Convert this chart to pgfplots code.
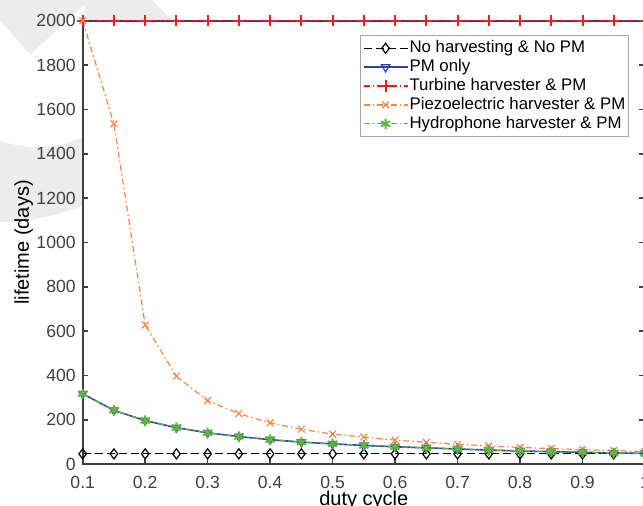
\documentclass[border=0pt]{standalone}
\usepackage{fontspec}
\setmainfont{Liberation Sans}
\usepackage{pgfplots}
\pgfplotsset{compat=1.18}
\definecolor{axgray}{RGB}{64,64,64}
\definecolor{wmgray}{RGB}{236,236,236}
\definecolor{pmblue}{RGB}{40,70,165}
\definecolor{turbred}{RGB}{235,30,40}
\definecolor{piezo}{RGB}{245,135,75}
\definecolor{hydro}{RGB}{95,180,65}

\begin{document}
\begin{tikzpicture}
% light watermark behind the axes (pixel units of the reference)
\begin{scope}[x=0.5pt,y=-0.5pt,xshift=-41.35pt,yshift=232.15pt]
  \fill[wmgray] (0,0) -- (152,0) -- (178,26) -- (85,26) -- (85,4) -- (30,55) -- (0,20) -- cycle;
  \fill[wmgray] (0,141) .. controls (30,150) and (60,150) .. (85,135) -- (85,205)
     .. controls (60,215) and (30,222) .. (0,222) -- cycle;
\end{scope}
\begin{axis}[
  scale only axis,
  width=281.15pt, height=221.8pt,
  xmin=0.1, xmax=1, ymin=0, ymax=2000,
  xtick={0.1,0.2,...,1.0},
  xticklabels={0.1,0.2,0.3,0.4,0.5,0.6,0.7,0.8,0.9,1},
  ytick={0,200,...,2000},
  axis background/.style={fill=white},
  axis line style={axgray, line width=1pt},
  tick style={axgray, line width=0.8pt},
  tick align=inside,
  major tick length=2.8pt,
  clip=false,
  /pgf/number format/assume math mode=true,
  ticklabel style={font=\fontsize{8.8}{10}\selectfont, text=axgray},
  xticklabel style={anchor=base, yshift=-12pt},
  scaled y ticks=false,
  yticklabel style={/pgf/number format/.cd, fixed, 1000 sep={}},
  xlabel={duty cycle},
  ylabel={lifetime (days)},
  label style={font=\fontsize{9.6}{11}\selectfont, text=axgray},
  every axis x label/.style={at={(rel axis cs:0.5,0)}, anchor=base, yshift=-20.6pt},
  every axis y label/.style={at={(rel axis cs:0,0.5)}, xshift=-29.5pt, rotate=90, anchor=center},
  legend style={at={(1,1)}, anchor=north east, xshift=-8pt, yshift=-7.3pt,
    draw=gray!70, line width=0.5pt, fill=white,
    font=\fontsize{8.4}{9}\selectfont, inner xsep=1pt, inner ysep=1.5pt,
    nodes={inner sep=0.6pt, text height=6.3pt, text depth=1.95pt}},
  legend cell align=left,
  legend image code/.code={\draw[mark repeat=2,mark phase=2] plot coordinates {(0pt,0pt) (11pt,0pt) (22pt,0pt)};},
  every axis plot/.append style={line width=0.6pt},
]
\addplot[black, dash pattern=on 4pt off 2pt, mark=diamond, mark size=2.5pt,
  mark options={solid, fill=white}] coordinates {
(0.10,47) (0.15,47) (0.20,47) (0.25,47) (0.30,47) (0.35,47) (0.40,47) (0.45,47) (0.50,47) (0.55,47)
(0.60,47) (0.65,47) (0.70,47) (0.75,47) (0.80,47) (0.85,47) (0.90,47) (0.95,47) (1.00,47)};
\addlegendentry{No harvesting \& No PM}
\addplot[pmblue, solid, line width=0.8pt, mark=triangle, mark size=2.4pt, mark options={rotate=180, fill=white, line width=0.6pt}] coordinates {
(0.10,318) (0.15,243) (0.20,197) (0.25,165) (0.30,142) (0.35,125) (0.40,111) (0.45,100) (0.50,92) (0.55,85)
(0.60,79) (0.65,74) (0.70,69) (0.75,64) (0.80,60) (0.85,57) (0.90,54) (0.95,51) (1.00,49)};
\addlegendentry{PM only}
\addplot[turbred, dash pattern=on 3pt off 1.5pt on 0.8pt off 1.5pt, mark=+, mark size=2.8pt,
  mark options={solid, line width=1pt}] coordinates {
(0.10,2000) (0.15,2000) (0.20,2000) (0.25,2000) (0.30,2000) (0.35,2000) (0.40,2000) (0.45,2000) (0.50,2000) (0.55,2000)
(0.60,2000) (0.65,2000) (0.70,2000) (0.75,2000) (0.80,2000) (0.85,2000) (0.90,2000) (0.95,2000) (1.00,2000)};
\addlegendentry{Turbine harvester \& PM}
\addplot[piezo, dash pattern=on 3pt off 1.5pt on 0.8pt off 1.5pt, mark=x, mark size=2.4pt,
  mark options={solid}] coordinates {
(0.10,2000) (0.15,1535) (0.20,628) (0.25,397) (0.30,287) (0.35,228) (0.40,187) (0.45,158) (0.50,136) (0.55,123)
(0.60,109) (0.65,99) (0.70,90) (0.75,83) (0.80,76) (0.85,71) (0.90,66) (0.95,62) (1.00,57)};
\addlegendentry{Piezoelectric harvester \& PM}
\addplot[hydro, dash pattern=on 3pt off 1.5pt on 0.8pt off 1.5pt, mark=asterisk, mark size=2.6pt,
  mark options={solid, line width=1pt}] coordinates {
(0.10,318) (0.15,243) (0.20,197) (0.25,165) (0.30,142) (0.35,125) (0.40,111) (0.45,100) (0.50,92) (0.55,85)
(0.60,79) (0.65,74) (0.70,69) (0.75,64) (0.80,60) (0.85,57) (0.90,54) (0.95,51) (1.00,49)};
\addlegendentry{Hydrophone harvester \& PM}
\end{axis}
\pgfresetboundingbox
\path[use as bounding box] (-41.35pt,-20.85pt) rectangle (280.15pt,232.15pt);
\end{tikzpicture}
\end{document}
